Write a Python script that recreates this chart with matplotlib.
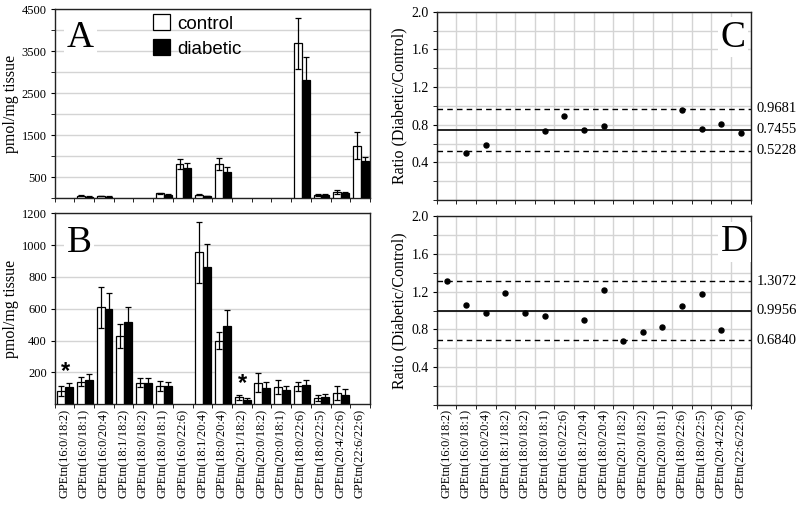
import numpy as np
import matplotlib
matplotlib.use("Agg")
import matplotlib.pyplot as plt
import matplotlib.transforms as mtransforms
from matplotlib.ticker import FixedLocator, MultipleLocator, NullFormatter

nan = np.nan

species = ["GPEtn(16:0/18:2)", "GPEtn(16:0/18:1)", "GPEtn(16:0/20:4)", "GPEtn(18:1/18:2)",
           "GPEtn(18:0/18:2)", "GPEtn(18:0/18:1)", "GPEtn(16:0/22:6)", "GPEtn(18:1/20:4)",
           "GPEtn(18:0/20:4)", "GPEtn(20:1/18:2)", "GPEtn(20:0/18:2)", "GPEtn(20:0/18:1)",
           "GPEtn(18:0/22:6)", "GPEtn(18:0/22:5)", "GPEtn(20:4/22:6)", "GPEtn(22:6/22:6)"]

# Panel A (pmol/mg tissue)
a_control = [nan, 62, 54, nan, nan, 115, 815, 85, 808, nan, nan, nan, 3690, 77, 146, 1254]
a_control_err = [nan, 15, 10, nan, nan, 20, 110, 15, 140, nan, nan, nan, 605, 25, 40, 320]
a_diabetic = [nan, 38, 38, nan, nan, 85, 715, 54, 638, nan, nan, nan, 2817, 70, 123, 892]
a_diabetic_err = [nan, 12, 10, nan, nan, 15, 120, 10, 115, nan, nan, nan, 540, 30, 25, 100]

# Panel B (pmol/mg tissue)
b_control = [84, 142, 609, 430, 136, 117, nan, 955, 399, 44, 136, 109, 113, 40, 73, nan]
b_control_err = [32, 28, 128, 74, 28, 32, nan, 192, 54, 15, 59, 44, 29, 17, 44, nan]
b_diabetic = [111, 153, 598, 514, 134, 113, nan, 861, 489, 27, 105, 90, 120, 48, 57, nan]
b_diabetic_err = [25, 38, 103, 97, 30, 26, nan, 143, 101, 15, 34, 25, 33, 17, 38, nan]
b_star_idx = [0, 9]
b_star_y = [205, 132]

# Panel C / D ratios (Diabetic/Control)
c_ratio = [nan, 0.504, 0.582, nan, nan, 0.732, 0.889, 0.743, 0.786, nan, nan, nan, 0.957, 0.757, 0.811, 0.714]
c_lines = [0.9681, 0.7455, 0.5228]
d_ratio = [1.309, 1.057, 0.973, 1.190, 0.973, 0.941, nan, 0.896, 1.218, 0.679, 0.773, 0.829, 1.046, 1.176, 0.798, nan]
d_lines = [1.3072, 0.9956, 0.6840]

SERIF = "Liberation Serif"
SANS = "Liberation Sans"
GRID = "#d4d4d4"
H = 509.0
W = 800.0


def rect(x0, x1, ytop, ybot):
    return [x0 / W, 1 - ybot / H, (x1 - x0) / W, (ybot - ytop) / H]


fig = plt.figure(figsize=(8.0, 5.09), dpi=100)
axA = fig.add_axes(rect(54.5, 370, 9.3, 198.3))
axB = fig.add_axes(rect(54.5, 370, 213.3, 404.3))
axC = fig.add_axes(rect(436.7, 750.7, 11.7, 200))
axD = fig.add_axes(rect(436.7, 750.7, 216, 405))

n = len(species)
xs = np.arange(n)


def draw_bars(ax, ctrl, cerr, diab, derr):
    c = np.array(ctrl, float); ce = np.array(cerr, float)
    d = np.array(diab, float); de = np.array(derr, float)
    mc = ~np.isnan(c); md = ~np.isnan(d)
    w = 0.40
    hc = ax.bar(xs[mc] + 0.14, c[mc], width=w, align="edge", color="white",
                edgecolor="black", linewidth=0.9, zorder=3)
    hd = ax.bar(xs[md] + 0.54, d[md], width=w, align="edge", color="black",
                edgecolor="black", linewidth=0.9, zorder=3)
    ax.errorbar(xs[mc] + 0.14 + w / 2, c[mc], yerr=ce[mc], fmt="none", ecolor="black",
                elinewidth=0.9, capsize=2, capthick=0.9, zorder=4)
    ax.errorbar(xs[md] + 0.54 + w / 2, d[md], yerr=de[md], fmt="none", ecolor="black",
                elinewidth=0.9, capsize=2, capthick=0.9, zorder=4)
    return hc, hd


def style_common(ax, ysize):
    ax.set_xlim(0, n)
    ax.set_axisbelow(True)
    for s in ax.spines.values():
        s.set_linewidth(1.0)
        s.set_color("#222222")
    ax.xaxis.set_minor_locator(FixedLocator(np.arange(0, n + 1)))
    ax.xaxis.set_major_locator(FixedLocator(xs + 0.5))
    ax.tick_params(axis="x", which="major", length=0)
    ax.tick_params(axis="x", which="minor", length=3, direction="out")
    ax.tick_params(axis="y", which="both", direction="out", length=3,
                   labelsize=ysize, pad=2.5)


hcA, hdA = draw_bars(axA, a_control, a_control_err, a_diabetic, a_diabetic_err)
draw_bars(axB, b_control, b_control_err, b_diabetic, b_diabetic_err)

# Panel A
axA.set_ylim(0, 4500)
axA.yaxis.set_major_locator(FixedLocator([500, 1500, 2500, 3500, 4500]))
axA.yaxis.set_minor_locator(FixedLocator([0, 1000, 2000, 3000, 4000]))
axA.yaxis.grid(True, which="both", color=GRID, linewidth=1.0)
style_common(axA, 9)
axA.set_xticklabels([])
axA.set_ylabel("pmol/mg tissue", family=SERIF, fontsize=11.5, labelpad=2)
for lab in axA.get_yticklabels():
    lab.set_family(SERIF)
axA.legend([hcA, hdA], ["control", "diabetic"], loc="upper left",
           bbox_to_anchor=(0.305, 0.985), frameon=False,
           prop={"family": SANS, "size": 13.5}, handlelength=0.95,
           handleheight=0.95, handletextpad=0.35, labelspacing=0.35,
           borderaxespad=0, borderpad=0.1)

# Panel B
axB.set_ylim(0, 1200)
axB.yaxis.grid(True, which="major", color=GRID, linewidth=1.0)
style_common(axB, 9)
axB.set_yticks([200, 400, 600, 800, 1000, 1200])
for lab in axB.get_yticklabels():
    lab.set_family(SERIF)
axB.set_xticklabels(species, rotation=90, family=SERIF, fontsize=9)
axB.tick_params(axis="x", which="major", pad=3)
axB.set_ylabel("pmol/mg tissue", family=SERIF, fontsize=11.5, labelpad=2)
for i, yv in zip(b_star_idx, b_star_y):
    axB.text(i + 0.54, yv, "*", ha="center", va="center", fontsize=17,
             fontweight="bold", family=SANS, zorder=5)


def draw_ratio(ax, ratio, lines):
    r = np.array(ratio, float)
    m = ~np.isnan(r)
    ax.set_ylim(0, 2.0)
    ax.yaxis.set_minor_locator(MultipleLocator(0.2))
    ax.yaxis.set_minor_formatter(NullFormatter())
    ax.grid(True, which="minor", axis="x", color=GRID, linewidth=1.0)
    ax.grid(True, which="both", axis="y", color=GRID, linewidth=1.0)
    style_common(ax, 10)
    ax.set_yticks([0.4, 0.8, 1.2, 1.6, 2.0])
    ax.set_yticklabels(["0.4", "0.8", "1.2", "1.6", "2.0"], family=SERIF, fontsize=10)
    ax.plot(xs[m] + 0.5, r[m], "o", color="black", markersize=3.6, zorder=5)
    hi, mean, lo = lines
    ax.axhline(mean, color="black", linewidth=1.2, zorder=4)
    ax.axhline(hi, color="black", linewidth=1.0, linestyle=(0, (4, 3)), zorder=4)
    ax.axhline(lo, color="black", linewidth=1.0, linestyle=(0, (4, 3)), zorder=4)
    tr = mtransforms.blended_transform_factory(ax.transAxes, ax.transData)
    for v in lines:
        ax.text(1.02, v, f"{v:.4f}", transform=tr, ha="left", va="center",
                family=SERIF, fontsize=10.5)
    ax.set_ylabel("Ratio (Diabetic/Control)", family=SERIF, fontsize=11.5, labelpad=3)


draw_ratio(axC, c_ratio, c_lines)
axC.set_xticklabels([])
draw_ratio(axD, d_ratio, d_lines)
axD.set_xticklabels(species, rotation=90, family=SERIF, fontsize=9)
axD.tick_params(axis="x", which="major", pad=3)

box = dict(facecolor="white", edgecolor="none", pad=2)
axA.text(0.04, 0.80, "A", transform=axA.transAxes, family=SERIF, fontsize=27,
         ha="left", va="baseline", bbox=box, zorder=6)
axB.text(0.039, 0.80, "B", transform=axB.transAxes, family=SERIF, fontsize=27,
         ha="left", va="baseline", bbox=box, zorder=6)
axC.text(0.905, 0.815, "C", transform=axC.transAxes, family=SERIF, fontsize=27,
         ha="left", va="baseline", bbox=box, zorder=6)
axD.text(0.905, 0.815, "D", transform=axD.transAxes, family=SERIF, fontsize=27,
         ha="left", va="baseline", bbox=box, zorder=6)

fig.savefig("out.png", dpi=100)
